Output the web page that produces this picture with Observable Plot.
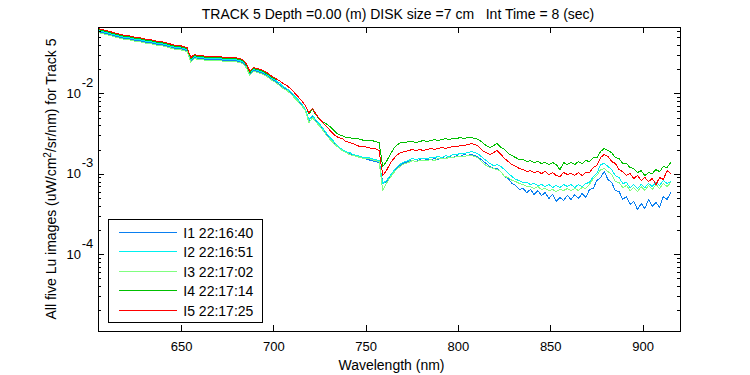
<!DOCTYPE html>
<html><head><meta charset="utf-8">
<script src="https://cdn.jsdelivr.net/npm/d3@7"></script>
<script src="https://cdn.jsdelivr.net/npm/@observablehq/plot@0.6"></script>
<style>
html,body{margin:0;padding:0;background:#fff;}
#chart{width:750px;height:375px;}
svg text{font-family:"Liberation Sans",Arial,Helvetica,sans-serif;}
</style></head><body><div id="chart"></div>
<script>
const wavelength = [605,607,609,611,613,615,617,619,621,623,625,627,629,631,633,635,637,639,641,643,645,647,649,651,653,655,657,659,661,663,665,667,669,671,673,675,677,679,681,683,685,687,689,691,693,695,697,699,701,703,705,707,709,711,713,715,717,719,721,723,725,727,729,731,733,735,737,739,741,743,745,747,749,751,753,755,757,759,761,763,765,767,769,771,773,775,777,779,781,783,785,787,789,791,793,795,797,799,801,803,805,807,809,811,813,815,817,819,821,823,825,827,829,831,833,835,837,839,841,843,845,847,849,851,853,855,857,859,861,863,865,867,869,871,873,875,877,879,881,883,885,887,889,891,893,895,897,899,901,903,905,907,909,911,913,915];

const i1 = [.0595,.0578,.0562,.0546,.0531,.0516,.0501,.0487,.0487,.0474,.0460,.0460,.0447,.0434,.0434,.0422,.0410,.0410,.0398,.0387,.0376,.0366,.0366,.0355,.0345,
.0259,.0283,.0275,.0275,.0267,.0267,.0267,.0267,.0267,.0259,.0259,.0259,.0259,.0252,.0245,.0218,.0174,.0195,.0190,.0184,.0174,.0164,.0151,.0142,
.0130,.0120,.0113,.0104,.00926,.00825,.00736,.00638,.00466,.00522,
.00453,.00403,.00350,.00303,.00270,.00241,.00215,.00197,.00186,.00181,
.00171,.00166,.00161,.00157,.00152,.00148,.00144,.00140,.000790,.000790,
.000938,.00108,.00121,.00132,.00140,.00144,.00148,.00144,.00152,.00148,
.00152,.00152,.00157,.00152,.00161,.00157,.00166,.00161,.00171,.00166,
.00176,.00171,.00176,.00171,.00161,.00148,.00136,.00125,.00118,.00118,
.00108,.000938,.000886,.000768,.000725,.000646,.000665,.000593,.000646,.000560,
.000628,.000544,.000593,.000500,.000560,.000459,.000514,.000472,.000544,.000486,
.000560,.000500,.000576,.000514,.000646,.000665,.000836,.000911,.00108,.000861,
.000790,.000628,.000610,.000486,.000529,.000421,.000459,.000365,.000433,.000375,
.000486,.000397,.000446,.000386,.000529,.000486,.000593];

const i2 = [.0612,.0595,.0578,.0562,.0546,.0531,.0516,.0501,.0501,.0487,.0474,.0474,.0460,.0447,.0447,.0434,.0422,.0422,.0410,.0398,.0387,.0376,.0376,.0366,.0355,
.0267,.0291,.0283,.0283,.0275,.0275,.0275,.0275,.0275,.0267,.0267,.0267,.0267,.0259,.0252,.0225,.0179,.0201,.0195,.0190,.0179,.0169,.0155,.0146,
.0138,.0123,.0116,.0107,.00952,.00850,.00758,.00638,.00479,.00537,
.00466,.00415,.00360,.00312,.00278,.00248,.00221,.00203,.00191,.00186,
.00176,.00171,.00166,.00161,.00161,.00157,.00152,.00148,.000768,.000836,
.000965,.00111,.00125,.00136,.00144,.00148,.00157,.00152,.00157,.00157,
.00157,.00161,.00161,.00166,.00161,.00171,.00166,.00176,.00176,.00181,
.00181,.00186,.00191,.00186,.00176,.00161,.00148,.00136,.00128,.00132,
.00125,.00114,.00102,.000938,.000861,.000836,.000790,.000790,.000746,.000768,
.000725,.000746,.000704,.000746,.000684,.000725,.000684,.000746,.000704,.000746,
.000684,.000746,.000704,.000768,.000790,.000938,.00102,.00132,.00136,.00125,
.00114,.000965,.000911,.000768,.000790,.000684,.000746,.000665,.000746,.000684,
.000768,.000704,.000790,.000725,.000836,.000768,.000813];

const i3 = [.0578,.0562,.0546,.0531,.0516,.0501,.0487,.0474,.0474,.0460,.0447,.0447,.0434,.0422,.0422,.0410,.0398,.0398,.0387,.0376,.0366,.0355,.0355,.0345,.0336,
.0245,.0275,.0267,.0267,.0259,.0259,.0259,.0259,.0259,.0252,.0252,.0252,.0252,.0245,.0238,.0212,.0169,.0190,.0184,.0179,.0169,.0160,.0146,.0138,
.0127,.0116,.0110,.0101,.00900,.00802,.00716,.00620,.00440,.00507,
.00440,.00392,.00340,.00294,.00263,.00234,.00215,.00197,.00186,.00176,
.00171,.00166,.00161,.00157,.00157,.00152,.00148,.00144,.000628,.000768,
.000911,.00105,.00118,.00128,.00136,.00140,.00148,.00144,.00148,.00148,
.00148,.00152,.00148,.00157,.00157,.00157,.00161,.00161,.00166,.00166,
.00166,.00171,.00171,.00166,.00157,.00140,.00128,.00121,.00118,.00114,
.00108,.000938,.000911,.000836,.000813,.000768,.000746,.000704,.000704,.000665,
.000704,.000646,.000665,.000628,.000646,.000610,.000646,.000628,.000665,.000628,
.000665,.000628,.000684,.000665,.000746,.000886,.000965,.00114,.00118,.00108,
.000993,.000813,.000790,.000684,.000725,.000628,.000684,.000610,.000704,.000628,
.000725,.000646,.000746,.000665,.000768,.000704,.000790];

const i4 = [.0630,.0612,.0595,.0578,.0562,.0546,.0531,.0516,.0516,.0501,.0487,.0487,.0474,.0460,.0460,.0447,.0434,.0434,.0422,.0410,.0398,.0387,.0387,.0376,.0366,
.0275,.0299,.0291,.0291,.0283,.0283,.0283,.0283,.0283,.0275,.0275,.0275,.0275,.0267,.0259,.0231,.0184,.0206,.0201,.0195,.0184,.0174,.0160,.0151,
.0146,.0134,.0127,.0116,.0104,.00926,.00825,.00716,.00569,.00638,
.00537,.00479,.00440,.00415,.00381,.00340,.00312,.00303,.00286,.00286,
.00278,.00278,.00270,.00263,.00263,.00263,.00255,.00248,.00125,.00144,
.00176,.00209,.00234,.00248,.00248,.00255,.00255,.00248,.00255,.00263,
.00255,.00263,.00270,.00263,.00270,.00278,.00270,.00278,.00278,.00286,
.00278,.00286,.00286,.00278,.00270,.00248,.00227,.00215,.00227,.00241,
.00215,.00203,.00181,.00171,.00161,.00152,.00152,.00144,.00148,.00140,
.00144,.00136,.00140,.00132,.00140,.00132,.00114,.00140,.00132,.00140,
.00132,.00144,.00136,.00148,.00144,.00161,.00161,.00191,.00209,.00197,
.00186,.00161,.00157,.00136,.00136,.00121,.00118,.00105,.00111,.000965,
.00105,.00102,.00114,.00108,.00125,.00121,.00140];

const i5 = [.0648,.0630,.0612,.0595,.0578,.0562,.0546,.0531,.0531,.0516,.0501,.0501,.0487,.0474,.0474,.0460,.0447,.0447,.0434,.0422,.0410,.0398,.0398,.0387,.0376,
.0283,.0308,.0299,.0299,.0291,.0291,.0291,.0291,.0291,.0283,.0283,.0283,.0283,.0275,.0267,.0238,.0190,.0212,.0206,.0201,.0190,.0179,.0164,.0155,
.0146,.0134,.0127,.0116,.0104,.00926,.00825,.00716,.00586,.00657,
.00553,.00479,.00427,.00381,.00340,.00303,.00286,.00278,.00255,.00248,
.00241,.00227,.00221,.00221,.00215,.00209,.00209,.00197,.000965,.00111,
.00136,.00157,.00176,.00186,.00191,.00197,.00203,.00197,.00203,.00197,
.00203,.00209,.00203,.00209,.00215,.00209,.00215,.00221,.00221,.00227,
.00227,.00234,.00241,.00234,.00221,.00197,.00186,.00176,.00186,.00197,
.00176,.00157,.00144,.00132,.00125,.00118,.00114,.00108,.00111,.00105,
.00108,.00102,.00108,.000993,.00105,.000965,.000938,.00105,.000993,.00102,
.000965,.00105,.000965,.00105,.00105,.00121,.00128,.00161,.00176,.00166,
.00144,.00136,.00114,.00108,.000965,.00102,.000886,.000965,.000836,.000911,
.000813,.000886,.000746,.000911,.000861,.00111,.00102];

const seriesNames = ["I1 22:16:40","I2 22:16:51","I3 22:17:02","I4 22:17:14","I5 22:17:25"];
const seriesColors = ["#0a7ff0","#00f0f0","#80ff80","#00c000","#ff0000"];
const seriesValues = [i1, i2, i3, i4, i5];

const xTicks = [650, 700, 750, 800, 850, 900];
const xTickLabels = ["650", "700", "750", "800", "850", "900"];
const yMajorTicks = [1e-4, 1e-3, 1e-2];
const yExponents = ["-4", "-3", "-2"];
const yMinorTicks = [2e-5,3e-5,4e-5,5e-5,6e-5,7e-5,8e-5,9e-5,
  2e-4,3e-4,4e-4,5e-4,6e-4,7e-4,8e-4,9e-4,
  2e-3,3e-3,4e-3,5e-3,6e-3,7e-3,8e-3,9e-3,
  2e-2,3e-2,4e-2,5e-2,6e-2];

const titleText = "TRACK 5 Depth =0.00 (m) DISK size =7 cm   Int Time = 8 (sec)";
const xLabel = "Wavelength (nm)";
const yLabelA = "All five Lu images (uW/cm";
const yLabelSup = "2";
const yLabelB = "/sr/nm) for Track 5";

const W = 750, H = 375, mL = 98, mR = 70, mT = 27, mB = 44;
const pw = W - mL - mR, ph = H - mT - mB;

const lineMarks = seriesValues.map((vals, s) =>
  Plot.line(wavelength.map((w, k) => ({w, v: vals[k]})).filter(d => d.v != null),
    {x: "w", y: "v", stroke: seriesColors[s], strokeWidth: 1, shapeRendering: "crispEdges"}));

const xTickTable = xTicks.map((v, i) => ({v, label: xTickLabels[i]}));
const yTickTable = yMajorTicks.map((v, i) => ({v, e: yExponents[i]}));

const plot = Plot.plot({
  width: W, height: H,
  marginLeft: mL, marginRight: mR, marginTop: mT, marginBottom: mB,
  x: {domain: [605, 920.3], axis: null},
  y: {type: "log", domain: [1.11e-5, 0.0667], axis: null},
  style: {fontFamily: "Liberation Sans, Arial, sans-serif", fontSize: "13px", background: "white", color: "black"},
  marks: [
    ...lineMarks,
    Plot.tickX(xTicks, {x: d => d, insetTop: ph - 6, stroke: "black", shapeRendering: "crispEdges"}),
    Plot.tickX(xTicks, {x: d => d, insetBottom: ph - 6, stroke: "black", shapeRendering: "crispEdges"}),
    Plot.tickY(yMajorTicks, {y: d => d, insetRight: pw - 6, stroke: "black", shapeRendering: "crispEdges"}),
    Plot.tickY(yMajorTicks, {y: d => d, insetLeft: pw - 6, stroke: "black", shapeRendering: "crispEdges"}),
    Plot.tickY(yMinorTicks, {y: d => d, insetRight: pw - 3, stroke: "black", shapeRendering: "crispEdges"}),
    Plot.tickY(yMinorTicks, {y: d => d, insetLeft: pw - 3, stroke: "black", shapeRendering: "crispEdges"}),
    Plot.frame({stroke: "black", shapeRendering: "crispEdges"}),
    Plot.text(xTickTable, {x: "v", text: "label", frameAnchor: "bottom", lineAnchor: "top", dy: 10, fontSize: 13, fill: "black"}),
    Plot.text(yTickTable, {y: "v", text: () => "10", frameAnchor: "left", textAnchor: "end", dx: -17.5, fontSize: 13, fill: "black"}),
    Plot.text(yTickTable, {y: "v", text: "e", frameAnchor: "left", textAnchor: "start", dx: -16.8, dy: -11, fontSize: 13, fill: "black"})
  ]
});
document.getElementById("chart").appendChild(plot);

const svg = d3.select(plot);
svg.append("text").attr("x", 398).attr("y", 18.5).attr("text-anchor", "middle")
  .attr("font-size", 14).attr("fill", "black").attr("xml:space", "preserve")
  .style("white-space", "pre").text(titleText);
svg.append("text").attr("x", 391.5).attr("y", 369.5).attr("text-anchor", "middle")
  .attr("font-size", 14).attr("fill", "black").text(xLabel);
const yl = svg.append("text").attr("transform", "translate(55.5,179) rotate(-90)")
  .attr("text-anchor", "middle").attr("font-size", 14).attr("fill", "black");
yl.append("tspan").text(yLabelA);
yl.append("tspan").attr("dy", -5).attr("font-size", 10).text(yLabelSup);
yl.append("tspan").attr("dy", 5).text(yLabelB);

const lg = svg.append("g");
lg.append("rect").attr("x", 108.5).attr("y", 219.5).attr("width", 154).attr("height", 102.5)
  .attr("fill", "white").attr("stroke", "black").attr("shape-rendering", "crispEdges");
seriesNames.forEach((name, i) => {
  const yy = 231.5 + i * 19.5;
  lg.append("line").attr("x1", 119).attr("x2", 177).attr("y1", Math.round(yy) + 0.5).attr("y2", Math.round(yy) + 0.5)
    .attr("stroke", seriesColors[i]).attr("stroke-width", 1).attr("shape-rendering", "crispEdges");
  lg.append("text").attr("x", 183.3).attr("y", yy + 6).attr("text-anchor", "start")
    .attr("font-size", 14).attr("fill", "black").text(name);
});
</script>
</body></html>
